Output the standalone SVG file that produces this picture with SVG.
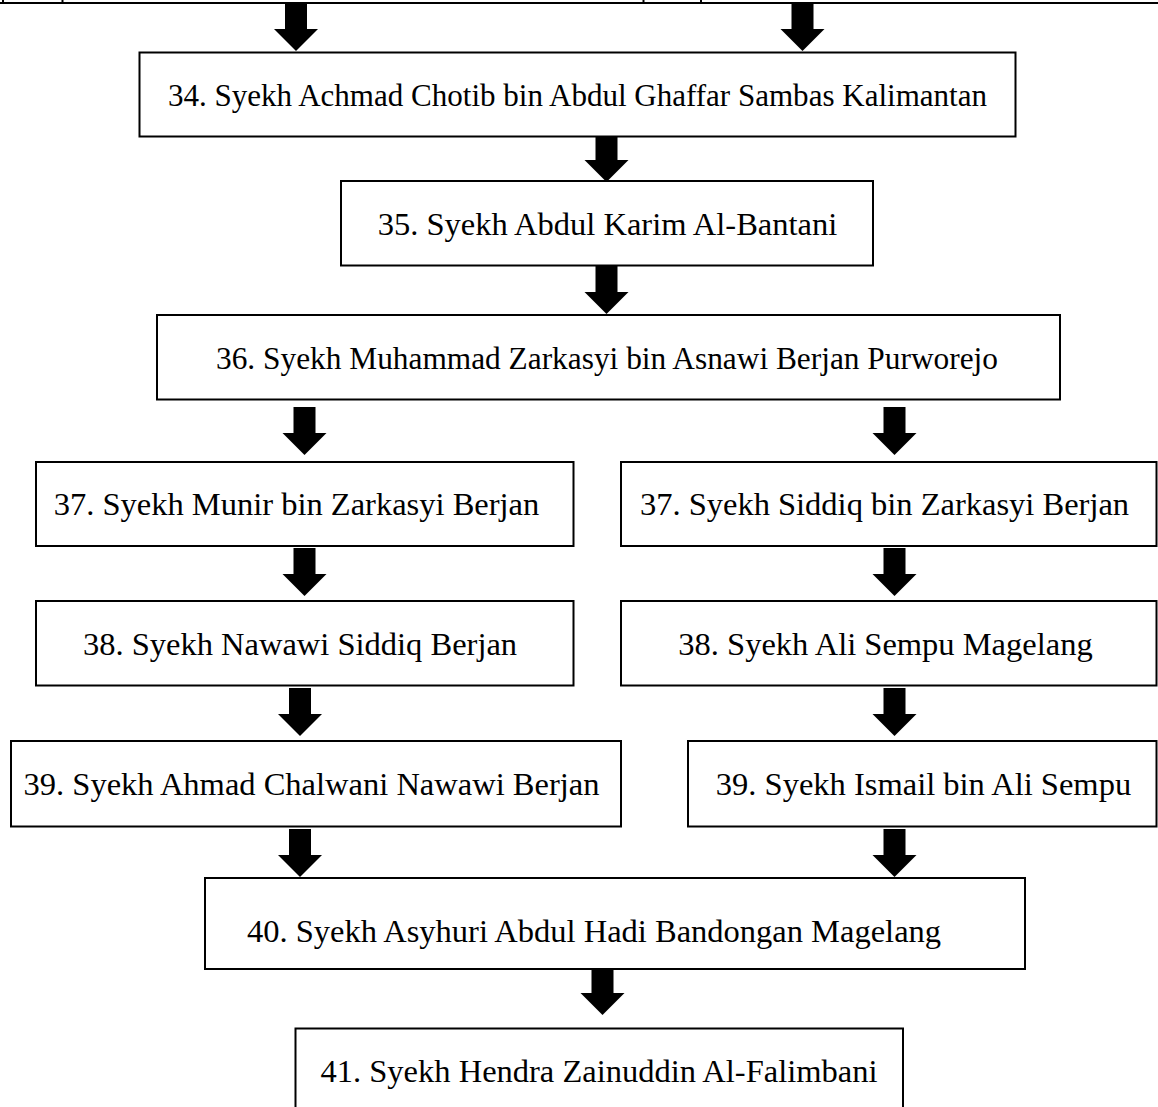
<svg xmlns="http://www.w3.org/2000/svg" xmlns:xlink="http://www.w3.org/1999/xlink" width="1158" height="1107" viewBox="0 0 1158 1107">
<style>
.box{fill:#fff;stroke:#000;stroke-width:2}
.t{font-family:"Liberation Serif","Times New Roman",serif;font-size:32.5px;fill:#000;text-anchor:middle}
.tbl{stroke:#000;stroke-width:2;fill:none}
</style>
<defs>
<path id="arr" d="M-11,0 H11 V26 H22 L0,48 L-22,26 H-11 Z" fill="#000"/>
</defs>
<rect width="1158" height="1107" fill="#fff"/>
<g id="table-top">
<line class="tbl" x1="0" y1="3" x2="1158" y2="3"/>
<line class="tbl" x1="3" y1="0" x2="3" y2="3"/>
<line class="tbl" x1="62.5" y1="0" x2="62.5" y2="3"/>
<line class="tbl" x1="643.5" y1="0" x2="643.5" y2="3"/>
<line class="tbl" x1="701" y1="0" x2="701" y2="3"/>
</g>
<g id="connectors">
<use xlink:href="#arr" x="296" y="3"/>
<use xlink:href="#arr" x="802.5" y="3"/>
<use xlink:href="#arr" x="606.5" y="134"/>
<use xlink:href="#arr" x="606.5" y="266"/>
<use xlink:href="#arr" x="304.5" y="407"/>
<use xlink:href="#arr" x="894.5" y="407"/>
<use xlink:href="#arr" x="304.5" y="548"/>
<use xlink:href="#arr" x="894.5" y="548"/>
<use xlink:href="#arr" x="300" y="688"/>
<use xlink:href="#arr" x="894.5" y="688"/>
<use xlink:href="#arr" x="300" y="829"/>
<use xlink:href="#arr" x="894.5" y="829"/>
<use xlink:href="#arr" x="602.5" y="967"/>
</g>
<g id="n34"><rect class="box" x="139.5" y="52.5" width="876" height="84"/><text class="t" x="577.5" y="105.5" textLength="819" lengthAdjust="spacingAndGlyphs">34. Syekh Achmad Chotib bin Abdul Ghaffar Sambas Kalimantan</text></g>
<g id="n35"><rect class="box" x="341" y="181" width="532" height="84.5"/><text class="t" x="607.5" y="234.5">35. Syekh Abdul Karim Al-Bantani</text></g>
<g id="n36"><rect class="box" x="157" y="315" width="903" height="84.5"/><text class="t" x="607" y="368.5" textLength="782" lengthAdjust="spacingAndGlyphs">36. Syekh Muhammad Zarkasyi bin Asnawi Berjan Purworejo</text></g>
<g id="n37a"><rect class="box" x="36" y="462" width="537.5" height="84"/><text class="t" x="296.5" y="515">37. Syekh Munir bin Zarkasyi Berjan</text></g>
<g id="n37b"><rect class="box" x="621" y="462" width="535.5" height="84"/><text class="t" x="884.5" y="515">37. Syekh Siddiq bin Zarkasyi Berjan</text></g>
<g id="n38a"><rect class="box" x="36" y="601" width="537.5" height="84.5"/><text class="t" x="300" y="654.5">38. Syekh Nawawi Siddiq Berjan</text></g>
<g id="n38b"><rect class="box" x="621" y="601" width="535.5" height="84.5"/><text class="t" x="885.5" y="654.5">38. Syekh Ali Sempu Magelang</text></g>
<g id="n39a"><rect class="box" x="11" y="741" width="610" height="85.5"/><text class="t" x="311.5" y="795">39. Syekh Ahmad Chalwani Nawawi Berjan</text></g>
<g id="n39b"><rect class="box" x="688" y="741" width="468.5" height="85.5"/><text class="t" x="923.5" y="795">39. Syekh Ismail bin Ali Sempu</text></g>
<g id="n40"><rect class="box" x="205" y="878" width="820" height="91"/><text class="t" x="594" y="942">40. Syekh Asyhuri Abdul Hadi Bandongan Magelang</text></g>
<g id="n41"><rect class="box" x="295.5" y="1028.5" width="607.5" height="100"/><text class="t" x="599" y="1081.5">41. Syekh Hendra Zainuddin Al-Falimbani</text></g>
</svg>
